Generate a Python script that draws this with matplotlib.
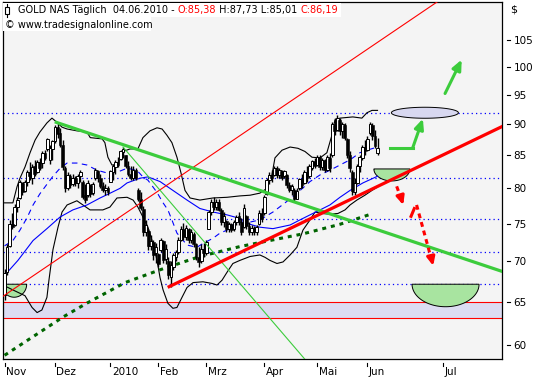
import numpy as np
import matplotlib
matplotlib.use("Agg")
import matplotlib.pyplot as plt
from matplotlib.patches import Polygon, Rectangle
from matplotlib.transforms import ScaledTranslation
from matplotlib.ticker import NullLocator, NullFormatter

# daily bars 30.10.2009 .. 04.06.2010, x = bar number
opens = [65.8, 68.6, 72.0, 75.0, 74.8, 77.3, 78.6, 80.8, 79.6, 81.0,
         82.5, 81.6, 83.3, 82.5, 84.0, 83.8, 85.3, 86.0, 84.2, 86.0,
         87.2, 89.6, 88.5, 86.6, 83.0, 80.0, 81.8, 80.6, 81.6, 80.8,
         81.8, 81.0, 79.0, 79.0, 80.5, 79.3, 81.5, 82.6, 81.6, 80.3,
         79.8, 80.1, 81.0, 82.5, 83.2, 84.0, 84.5, 85.5, 85.0, 83.4,
         82.2, 81.6, 82.8, 79.8, 78.4, 77.0, 73.8, 74.0, 72.0, 72.5,
         71.0, 70.9, 71.4, 72.6, 70.3, 70.0, 68.0, 69.2, 70.6, 71.2,
         72.8, 74.2, 73.2, 74.3, 72.8, 73.6, 72.2, 70.6, 70.0, 71.6,
         71.0, 74.3, 76.6, 78.0, 77.3, 78.0, 76.9, 75.2, 75.4, 74.2,
         74.9, 74.2, 75.2, 76.0, 75.2, 74.5, 76.0, 74.6, 73.8, 74.4,
         73.8, 75.0, 76.4, 76.5, 79.2, 81.3, 82.0, 82.0, 83.0, 82.0,
         82.6, 81.8, 82.0, 80.5, 79.8, 79.8, 78.5, 80.0, 81.4, 80.8,
         82.5, 81.8, 83.0, 84.1, 83.5, 84.8, 83.2, 84.2, 82.8, 84.6,
         85.0, 89.8, 89.0, 90.7, 88.8, 89.8, 87.5, 85.0, 82.5, 79.4,
         80.8, 83.3, 84.6, 86.3, 85.8, 88.5, 89.8, 88.0, 85.38]
highs = [69.0, 72.2, 75.5, 76.4, 77.7, 78.8, 81.3, 81.0, 81.3, 82.8,
         83.9, 83.6, 84.3, 84.3, 84.6, 85.6, 85.9, 87.8, 86.6, 87.4,
         89.9, 90.4, 89.4, 87.4, 83.3, 82.5, 82.1, 82.1, 81.9, 82.1,
         82.8, 81.3, 80.6, 81.3, 80.6, 80.9, 83.1, 82.8, 82.1, 81.0,
         80.6, 80.3, 82.8, 83.6, 84.3, 84.8, 85.9, 86.3, 85.1, 84.1,
         83.3, 83.3, 83.1, 80.1, 79.4, 77.4, 75.5, 74.3, 73.5, 72.8,
         72.4, 71.1, 73.1, 72.8, 72.2, 70.5, 70.0, 71.1, 71.5, 73.2,
         74.6, 75.1, 74.8, 74.4, 74.2, 73.8, 72.4, 71.9, 72.2, 72.4,
         72.8, 76.9, 78.4, 78.8, 78.4, 78.4, 77.2, 76.6, 75.5, 75.2,
         75.1, 75.5, 76.2, 76.6, 75.8, 77.7, 76.2, 75.2, 74.8, 74.6,
         74.8, 76.9, 77.2, 79.1, 81.6, 82.5, 82.8, 83.3, 83.3, 83.1,
         82.8, 82.8, 82.1, 81.0, 80.6, 80.0, 80.1, 81.6, 82.1, 82.8,
         83.3, 83.6, 84.3, 84.6, 85.1, 85.0, 84.6, 84.5, 85.1, 85.4,
         90.4, 91.1, 91.6, 91.0, 90.4, 90.2, 87.8, 85.6, 82.8, 81.6,
         83.6, 85.1, 86.6, 87.4, 88.0, 90.4, 90.2, 89.1, 87.73]
lows = [65.2, 68.3, 71.9, 74.2, 74.6, 76.6, 78.4, 79.1, 79.5, 80.3,
        81.3, 80.6, 81.8, 82.3, 82.8, 83.0, 84.3, 85.7, 83.6, 84.3,
        86.9, 87.8, 86.3, 82.8, 79.5, 79.8, 80.1, 80.3, 80.4, 80.1,
        81.0, 78.4, 77.9, 78.8, 78.8, 79.1, 81.3, 81.0, 80.1, 79.5,
        79.1, 79.1, 80.9, 81.3, 82.1, 83.2, 84.3, 84.6, 83.1, 81.8,
        81.3, 81.3, 81.3, 78.1, 76.9, 73.3, 73.3, 71.5, 71.5, 70.2,
        69.8, 69.3, 71.2, 69.8, 69.6, 67.7, 66.8, 68.9, 70.0, 70.9,
        72.6, 72.8, 72.8, 72.4, 72.4, 71.8, 70.2, 69.3, 69.8, 70.6,
        70.8, 74.2, 76.2, 76.9, 76.9, 76.7, 74.8, 74.5, 73.8, 73.8,
        73.8, 74.0, 74.8, 74.8, 73.5, 74.4, 74.2, 73.5, 73.5, 73.5,
        73.5, 74.8, 75.2, 76.2, 79.1, 80.6, 81.0, 81.8, 81.6, 81.6,
        81.3, 81.6, 80.1, 79.5, 79.1, 78.1, 78.4, 79.8, 80.1, 80.6,
        81.0, 81.6, 82.8, 83.1, 83.3, 82.8, 82.8, 82.5, 82.6, 82.5,
        84.8, 88.3, 88.8, 88.3, 87.8, 87.4, 84.6, 82.5, 79.1, 79.1,
        80.6, 82.5, 84.3, 85.1, 85.6, 88.3, 87.4, 86.1, 85.01]
closes = [68.5, 71.8, 75.0, 74.5, 77.3, 78.3, 81.0, 79.5, 81.0, 82.5,
          81.8, 83.2, 82.2, 84.0, 83.0, 85.3, 84.6, 87.6, 86.2, 87.2,
          89.5, 88.4, 86.6, 83.2, 80.0, 82.0, 80.5, 81.6, 80.8, 81.8,
          82.5, 78.8, 78.3, 80.8, 79.2, 80.6, 82.8, 81.5, 80.4, 79.8,
          80.0, 79.4, 82.6, 83.3, 84.0, 83.5, 85.6, 86.0, 83.4, 82.2,
          81.6, 82.8, 81.5, 78.4, 77.2, 73.8, 74.8, 72.0, 72.6, 70.8,
          71.8, 69.6, 72.8, 70.2, 71.6, 68.2, 69.5, 70.8, 71.2, 72.8,
          74.2, 73.2, 74.4, 72.8, 73.8, 72.2, 70.6, 69.9, 71.6, 71.0,
          72.5, 76.6, 78.0, 77.3, 78.0, 76.9, 75.2, 76.0, 74.2, 74.9,
          74.1, 75.2, 75.9, 75.2, 73.8, 77.2, 74.6, 73.8, 74.4, 73.8,
          74.5, 76.5, 75.6, 78.8, 81.3, 82.0, 81.5, 83.0, 82.0, 82.8,
          81.6, 82.6, 80.5, 79.8, 80.3, 78.5, 79.6, 81.4, 80.5, 82.5,
          81.5, 83.3, 84.1, 83.4, 84.8, 83.2, 84.3, 82.8, 84.8, 83.0,
          90.0, 88.8, 91.0, 88.8, 90.0, 87.8, 85.0, 83.0, 79.6, 80.8,
          83.3, 84.8, 86.3, 85.6, 87.6, 90.0, 88.0, 86.5, 86.19]

# Bollinger bands (20) and moving averages, read at bar positions
bb_up_x = [0, 3.3, 4.9, 6.1, 8.1, 10.1, 12.1, 14.0, 16.8, 18.8,
           20.8, 22.8, 24.8, 28.7, 32.7, 34.0, 38.7, 39.8, 41.0, 42.6,
           45.0, 47.0, 49.8, 52.9, 54.9, 57.7, 60.5, 62.5, 64.4, 66.4,
           68.4, 70.0, 71.6, 73.6, 77.5, 82.7, 88.3, 93.4, 97.4, 101.3,
           104.1, 106.1, 107.3, 110.1, 113.3, 116.4, 119.2, 122.0, 125.2, 127.9,
           129.9, 131.1, 133.1, 138.2, 141.8, 143.8, 145.8, 148.0]
bb_up = [77.9, 77.9, 80.2, 81.5, 83.2, 85.4, 87.4, 88.7, 90.2, 91.0,
         90.3, 89.5, 89.2, 88.9, 88.7, 87.8, 87.6, 87.0, 84.7, 83.5,
         83.5, 85.6, 86.0, 86.0, 87.8, 88.9, 89.4, 89.2, 88.2, 87.0,
         84.7, 82.3, 79.7, 78.6, 78.3, 78.6, 78.7, 78.9, 79.0, 79.3,
         80.0, 82.0, 84.6, 85.8, 86.3, 86.1, 85.6, 84.7, 84.6, 85.4,
         88.2, 90.7, 91.0, 91.2, 91.0, 91.9, 92.3, 92.3]
bb_lo_x = [0, 3.3, 8.1, 10.9, 12.9, 14.8, 16.8, 17.6, 19.2, 21.2,
           22.8, 24.8, 28.7, 33.9, 39.0, 41.8, 44.6, 48.6, 51.0, 52.9,
           54.9, 56.9, 58.9, 60.5, 61.7, 62.9, 64.8, 66.8, 68.4, 70.4,
           72.4, 74.8, 78.7, 82.3, 84.3, 86.3, 88.3, 90.6, 93.4, 97.4,
           101.3, 103.3, 105.3, 108.1, 110.5, 113.3, 116.0, 118.4, 121.2, 123.2,
           125.9, 129.1, 132.3, 135.1, 137.1, 139.8, 143.0, 145.8, 148.0]
bb_lo = [66.9, 66.4, 65.7, 64.3, 63.7, 64.0, 65.5, 67.6, 71.5, 74.5,
         76.6, 77.6, 78.2, 76.9, 76.9, 77.3, 78.6, 78.7, 78.3, 77.3,
         75.9, 74.5, 72.3, 70.1, 67.9, 66.4, 64.8, 64.2, 64.3, 65.5,
         66.7, 67.3, 67.4, 67.2, 67.0, 67.6, 68.6, 69.7, 70.1, 70.6,
         70.8, 70.5, 70.1, 69.7, 69.9, 70.8, 71.8, 74.1, 75.5, 76.6,
         76.4, 76.3, 76.4, 76.9, 77.6, 78.3, 79.0, 79.7, 80.2]
ma20_x = [0, 3.3, 6.1, 8.9, 11.3, 14.0, 16.8, 19.2, 22.0, 24.8,
          28.7, 32.7, 36.7, 40.6, 44.6, 48.6, 52.5, 54.9, 56.9, 60.5,
          62.9, 64.8, 66.4, 68.4, 72.4, 76.3, 78.7, 82.7, 85.5, 88.3,
          90.6, 93.4, 97.4, 101.3, 106.5, 111.3, 116.4, 121.2, 125.2, 129.1,
          133.1, 137.1, 141.0, 143.8, 148.0]
ma20 = [72.0, 72.7, 74.1, 75.8, 77.6, 79.2, 80.6, 81.8, 83.0, 83.8,
        83.8, 83.5, 82.7, 82.3, 82.4, 83.0, 82.7, 81.7, 81.2, 79.4,
        77.9, 76.9, 75.5, 73.7, 72.1, 71.8, 72.3, 73.0, 73.7, 74.1,
        74.8, 75.2, 75.2, 75.5, 76.6, 77.9, 79.4, 81.0, 82.0, 82.7,
        83.5, 84.3, 85.4, 85.8, 86.3]
ma50_x = [0, 5.3, 11.3, 16.8, 22.0, 27.1, 32.7, 37.9, 41.9, 45.8,
          48.6, 53.7, 56.9, 61.7, 66.8, 72.4, 77.5, 82.7, 88.3, 93.4,
          97.4, 101.3, 106.5, 113.3, 117.2, 121.2, 125.2, 129.1, 133.1, 137.1,
          142.2, 148.0]
ma50 = [68.2, 70.1, 72.7, 74.3, 75.9, 76.9, 77.6, 78.6, 79.3, 80.0,
        80.8, 81.5, 81.7, 81.0, 79.7, 78.3, 77.1, 76.6, 76.2, 75.7,
        74.9, 74.5, 74.3, 74.8, 75.5, 76.2, 76.9, 77.6, 78.7, 79.7,
        80.8, 81.8]
ma200_x = [0, 23.3, 32.6, 47.8, 61.7, 77.5, 93.4, 118.5, 133.1, 146.2]
ma200 = [58.9, 63.2, 64.8, 67.3, 68.9, 70.6, 71.9, 73.6, 74.9, 76.4]

# drawn levels and trend lines (bar, price)
levels = [91.8, 81.5, 75.6, 71.2, 67.1]
zone = [63.1, 64.9]
up_trend_x, up_trend_y = [65.3, 197.4], [66.8, 89.6]
down_trend_x, down_trend_y = [20.5, 197.4], [90.3, 68.7]
fan_x, fan_y = [47.0, 121.0], [86.3, 57.9]
channel_x, channel_y = [-0.8, 175.0], [65.6, 113.8]

month_pos = [0, 20, 42, 61, 80, 103, 124, 144, 174]
month_lbl = ["Nov", "Dez", "2010", "Feb", "Mrz", "Apr", "Mai", "Jun", "Jul"]
price_ticks = [60, 65, 70, 75, 80, 85, 90, 95, 100, 105]

GREEN = "#3ccc3c"
LIGHTGREEN = "#a8e4a0"
LAVENDER = "#dcdcf2"
W, H = 533, 380


def oval(ax, x, y, w, h, half=True, **kw):
    # oval of w x h pixels; half=True -> lower half hanging from (x, y)
    if half:
        t = np.linspace(np.pi, 2 * np.pi, 60)
        pts = np.column_stack([w / 2 * np.cos(t), h * np.sin(t)])
    else:
        t = np.linspace(0, 2 * np.pi, 90)
        pts = np.column_stack([w / 2 * np.cos(t), h / 2 * np.sin(t)])
    tr = ax.figure.dpi_scale_trans + ScaledTranslation(x, y, ax.transData)
    ax.add_patch(Polygon(pts / 100.0, closed=True, transform=tr, **kw))


def arrow_head(ax, tail, tip, color, size=0.6):
    ax.annotate("", xy=tip, xytext=tail,
                arrowprops=dict(arrowstyle="-|>,head_length=%.2f,head_width=%.2f" % (size, size * 0.45),
                                color=color, lw=2.2, shrinkA=0, shrinkB=0), zorder=8)


fig = plt.figure(figsize=(W / 100, H / 100), dpi=100)
fig.patch.set_facecolor("white")
ax = fig.add_axes([2.5 / W, 21 / H, 499.5 / W, 357 / H])
ax.set_facecolor("#f4f4f4")
ax.set_yscale("log")

# zone and levels
ax.axhspan(zone[0], zone[1], color=LAVENDER, lw=0, zorder=0.5)
for z in zone:
    ax.axhline(z, color="red", lw=0.8, zorder=1)
for lv in levels:
    ax.axhline(lv, color="#0000ff", lw=0.9, ls=(0, (1, 2.5)), zorder=1)

# target ovals
oval(ax, 3.8, 67.1, 25, 13, facecolor=LIGHTGREEN, edgecolor="black", lw=0.7, zorder=2)
oval(ax, 153.7, 82.9, 36, 12, facecolor=LIGHTGREEN, edgecolor="black", lw=0.7, zorder=2)
oval(ax, 175.0, 67.1, 67, 22.5, facecolor=LIGHTGREEN, edgecolor="black", lw=0.7, zorder=2)
oval(ax, 166.8, 91.9, 67, 11, half=False, facecolor="#d8d8f0", edgecolor="black", lw=0.7, zorder=2)

# indicators
ax.plot(bb_up_x, bb_up, color="black", lw=0.8, zorder=3)
ax.plot(bb_lo_x, bb_lo, color="black", lw=0.8, zorder=3)
ax.plot(ma20_x, ma20, color="#0000ff", lw=0.8, ls=(0, (5, 4)), zorder=3)
ax.plot(ma50_x, ma50, color="#0000ff", lw=0.8, zorder=3)
ax.plot(ma200_x, ma200, color="#006400", lw=2.2, ls=(0, (1.3, 1.6)), zorder=3)

# candles
idx = np.arange(len(closes))
o, h, l, c = map(np.array, (opens, highs, lows, closes))
up = c >= o
ax.vlines(idx, l, h, color="black", lw=1.0, zorder=4)
ax.bar(idx[up], (c - o)[up], bottom=o[up], width=1.1, facecolor="white",
       edgecolor="black", lw=0.7, zorder=5)
ax.bar(idx[~up], (o - c)[~up], bottom=c[~up], width=1.1, color="black",
       edgecolor="black", lw=0.4, zorder=5)

# trend lines
ax.plot(channel_x, channel_y, color="red", lw=0.8, zorder=6)
ax.plot(fan_x, fan_y, color=GREEN, lw=0.8, zorder=6)
ax.plot(down_trend_x, down_trend_y, color=GREEN, lw=2.3, zorder=6)
ax.plot(up_trend_x, up_trend_y, color="red", lw=2.3, zorder=6)

# scenario arrows
ax.plot([153.0, 161.9], [86.1, 86.1], color=GREEN, lw=2.2, zorder=7)
arrow_head(ax, (161.9, 86.1), (166.0, 90.9), GREEN)
arrow_head(ax, (174.8, 95.2), (181.4, 101.3), GREEN)
red_dash = (0, (1.6, 1.3))
ax.plot([155.6, 158.0], [80.3, 77.9], color="red", lw=2.2, ls=red_dash, zorder=7)
arrow_head(ax, (157.6, 78.3), (158.2, 77.6), "red", 0.5)
ax.plot([161.3, 162.6], [76.0, 77.1], color="red", lw=2.2, zorder=7)
ax.plot([163.5, 169.6], [77.6, 70.0], color="red", lw=2.2, ls=red_dash, zorder=7)
arrow_head(ax, (169.5, 70.2), (170.1, 69.4), "red", 0.5)

# axes
for s in ax.spines.values():
    s.set_color("black")
    s.set_linewidth(0.9)

ax.yaxis.tick_right()
ax.set_yticks(price_ticks, [str(v) for v in price_ticks])
ax.yaxis.set_minor_locator(NullLocator())
ax.yaxis.set_minor_formatter(NullFormatter())
ax.tick_params(axis="y", length=0, pad=8.3, labelsize=7.5)
yt = ax.get_yaxis_transform()
for v in price_ticks:
    ax.plot([1.010, 1.017], [v, v], transform=yt, color="black", lw=0.8, clip_on=False)

ax.set_xticks(month_pos, month_lbl)
ax.tick_params(axis="x", length=0, pad=6, labelsize=7.5)
shift = ScaledTranslation(1.5 / 100, 0, fig.dpi_scale_trans)
for lab in ax.get_xticklabels():
    lab.set_horizontalalignment("left")
    lab.set_transform(lab.get_transform() + shift)
xt = ax.get_xaxis_transform()
for p in month_pos:
    ax.plot([p, p], [-0.010, -0.021], transform=xt, color="black", lw=0.8, clip_on=False)

ax.set_xlim(-0.83, 197.4)
ax.set_ylim(58.5, 112.6)

fig.text(510 / W, 1 - 10 / H, "$", fontsize=8, va="center", ha="left")

# header
fig.patches.append(Rectangle((3 / W, 1 - 17 / H), 338 / W, 14 / H, transform=fig.transFigure,
                             facecolor="white", lw=0, zorder=1))
fig.patches.append(Rectangle((3 / W, 1 - 31 / H), 148 / W, 14 / H, transform=fig.transFigure,
                             facecolor="white", lw=0, zorder=1))
fig.lines.append(plt.Line2D([6.5 / W, 6.5 / W], [1 - 17 / H, 1 - 4 / H], transform=fig.transFigure,
                            color="black", lw=0.8, zorder=2))
fig.patches.append(Rectangle((4.5 / W, 1 - 13.5 / H), 4 / W, 6.5 / H, transform=fig.transFigure,
                             facecolor="white", edgecolor="black", lw=0.8, zorder=2))

parts = [("GOLD NAS Täglich  04.06.2010 - ", "black"), ("O:85,38", "red"),
         (" H:87,73 L:85,01 ", "black"), ("C:86,19", "red")]
renderer = fig.canvas.get_renderer()
x = 18 / W
for s, col in parts:
    t = fig.text(x, 1 - 10 / H, s, color=col, fontsize=7, va="center", ha="left")
    x += t.get_window_extent(renderer).width / fig.bbox.width
fig.text(5 / W, 1 - 25 / H, "© www.tradesignalonline.com", fontsize=7, va="center", ha="left")

fig.savefig("out.png", dpi=100, facecolor="white")
